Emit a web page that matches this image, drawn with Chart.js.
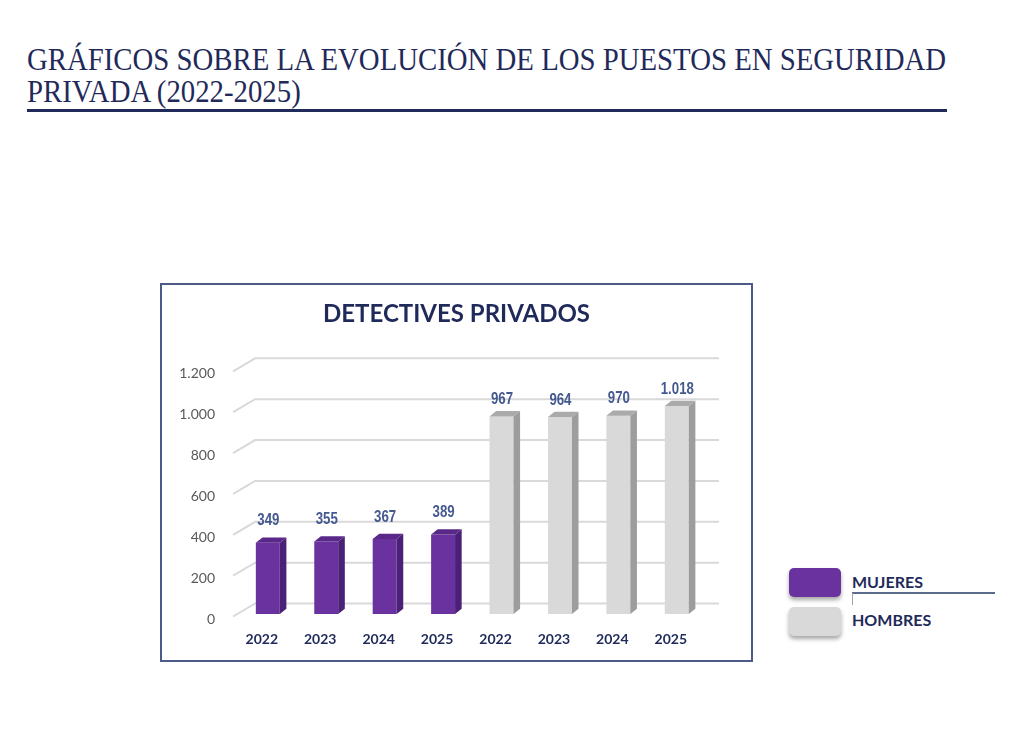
<!DOCTYPE html>
<html><head><meta charset="utf-8">
<script src="https://cdn.jsdelivr.net/npm/chart.js@4.4.1/dist/chart.umd.min.js"></script>
<style>
html,body{margin:0;padding:0;background:#fff}
body{width:1024px;height:730px;position:relative;overflow:hidden;font-family:Lato,sans-serif}
.h{position:absolute;left:27px;font-family:'Liberation Serif','Times New Roman',serif;color:#1f2a5a;font-size:32px;line-height:32px;white-space:nowrap;transform-origin:0 0}
#h1{top:43px}#h2{top:75px}
#rule{position:absolute;left:27px;top:109px;width:920px;height:3px;background:#1f2a5a}
#box{position:absolute;left:160px;top:283px;width:589px;height:375px;border:2px solid #4b5a86;background:#fff}
#box canvas{display:block}
.sw{position:absolute;left:789px;width:52px;height:29px;border-radius:5px;box-shadow:0 3px 4px rgba(0,0,0,.35)}
.lt{position:absolute;left:852px;font:bold 16px/16px Lato,sans-serif;color:#1f2a5a}
#lline{position:absolute;left:852px;top:592px;width:143px;height:2px;background:#5a6b8c}
#ltick{position:absolute;left:852px;top:593px;width:1px;height:12px;background:#9aa3b8}
</style></head>
<body>
<div class="h" id="h1">GRÁFICOS SOBRE LA EVOLUCIÓN DE LOS PUESTOS EN SEGURIDAD</div>
<div class="h" id="h2">PRIVADA (2022-2025)</div>
<div id="rule"></div>
<div id="box"><canvas id="c" width="589" height="375"></canvas></div>
<div id="legend"></div>
<div id="lline"></div><div id="ltick"></div>
<script>
// ---- data ----
const chartTitle = 'DETECTIVES PRIVADOS';
const years = ['2022', '2023', '2024', '2025'];
const seriesNames = ['MUJERES', 'HOMBRES'];
const mujeres = [349, 355, 367, 389];
const hombres = [967, 964, 970, 1018];
const yTicks = [0, 200, 400, 600, 800, 1000, 1200];

// ---- styles ----
const frontColors = ['#6a329f', '#d9d9d9'];
const sideColors = ['#4a2177', '#9d9d9d'];
const topColors = ['#5a2888', '#aaaaaa'];

// header scale to match width
const h1 = document.getElementById('h1'), h2 = document.getElementById('h2');
const sc = 919 / h1.getBoundingClientRect().width;
h1.style.transform = 'scaleX(' + sc + ')';
h2.style.transform = 'scaleX(' + sc + ')';

function fmt(v) {
  return String(v).replace(/\B(?=(\d{3})+(?!\d))/g, '.');
}

// legend
const lg = document.getElementById('legend');
seriesNames.forEach((n, i) => {
  const s = document.createElement('div');
  s.className = 'sw'; s.style.top = (568 + i * 39) + 'px'; s.style.background = frontColors[i];
  lg.appendChild(s);
  const t = document.createElement('div');
  t.className = 'lt'; t.style.top = (574 + i * 38) + 'px'; t.textContent = n;
  lg.appendChild(t);
});

const labels = years.concat(years);
const dsM = mujeres.concat(hombres.map(() => null));
const dsH = mujeres.map(() => null).concat(hombres);

const grid3d = {
  id: 'grid3d',
  beforeDatasetsDraw(chart) {
    const ctx = chart.ctx, y = chart.scales.y, a = chart.chartArea;
    ctx.save();
    ctx.strokeStyle = '#d9d9d9';
    ctx.lineWidth = 2;
    yTicks.forEach(v => {
      const py = y.getPixelForValue(v) - 10.5;
      ctx.beginPath();
      ctx.moveTo(a.left - 5.5, py + 13);
      ctx.lineTo(a.left + 16.5, py);
      ctx.lineTo(a.right + 13, py);
      ctx.stroke();
    });
    ctx.restore();
  }
};

const bars3d = {
  id: 'bars3d',
  afterDatasetsDraw(chart) {
    const ctx = chart.ctx;
    const d = 6.6, h = 5.3;
    chart.data.datasets.forEach((ds, di) => {
      const meta = chart.getDatasetMeta(di);
      meta.data.forEach((el, i) => {
        const v = ds.data[i];
        if (v === null || v === undefined) return;
        const p = el.getProps(['x', 'y', 'base', 'width'], true);
        const xL = p.x - p.width / 2, xR = p.x + p.width / 2;
        ctx.fillStyle = sideColors[di];
        ctx.beginPath();
        ctx.moveTo(xR, p.y); ctx.lineTo(xR + d, p.y - h); ctx.lineTo(xR + d, p.base - h); ctx.lineTo(xR, p.base);
        ctx.closePath(); ctx.fill();
        ctx.fillStyle = topColors[di];
        ctx.beginPath();
        ctx.moveTo(xL, p.y); ctx.lineTo(xL + d, p.y - h); ctx.lineTo(xR + d, p.y - h); ctx.lineTo(xR, p.y);
        ctx.closePath(); ctx.fill();
        ctx.save();
        ctx.fillStyle = '#44598f';
        ctx.font = 'bold 17px "Liberation Sans", Arial, sans-serif';
        ctx.textAlign = 'center';
        ctx.textBaseline = 'middle';
        ctx.translate(p.x + 0.5, p.y - ds.labelLift);
        ctx.scale(0.78, 1);
        ctx.fillText(fmt(v), 0, 0);
        ctx.restore();
      });
    });
  }
};

new Chart(document.getElementById('c'), {
  type: 'bar',
  data: {
    labels: labels,
    datasets: [
      { label: seriesNames[0], data: dsM, backgroundColor: frontColors[0], grouped: false, labelLift: 22 },
      { label: seriesNames[1], data: dsH, backgroundColor: frontColors[1], grouped: false, labelLift: 17 }
    ]
  },
  options: {
    responsive: false,
    animation: false,
    devicePixelRatio: 1,
    barPercentage: 0.41,
    categoryPercentage: 1,
    layout: { padding: 0 },
    plugins: {
      legend: { display: false },
      tooltip: { enabled: false },
      title: {
        display: true, text: chartTitle, color: '#1f2a5a',
        font: { family: 'Lato', size: 24, weight: 'bold' },
        padding: { top: 15, bottom: 40 }
      }
    },
    scales: {
      x: {
        grid: { display: false, drawTicks: false },
        border: { display: false },
        ticks: { color: '#1f2a5a', font: { family: 'Lato', size: 14, weight: 'bold' }, padding: 17, labelOffset: -6, autoSkip: false, maxRotation: 0 },
        afterFit(s) { s.height = 46; }
      },
      y: {
        min: 0, max: 1200,
        afterBuildTicks(s) { s.ticks = yTicks.map(v => ({ value: v })); },
        grid: { display: false, drawTicks: false },
        border: { display: false },
        ticks: { color: '#595959', font: { family: 'Lato', size: 14 }, padding: 23.6, labelOffset: 5, callback: v => fmt(v) },
        afterFit(s) { s.width = 76.6; }
      },
      yr: {
        position: 'right', min: 0, max: 1200,
        grid: { display: false, drawTicks: false },
        border: { display: false },
        ticks: { display: false },
        afterFit(s) { s.width = 45; }
      }
    }
  },
  plugins: [grid3d, bars3d]
});
</script>
</body></html>
